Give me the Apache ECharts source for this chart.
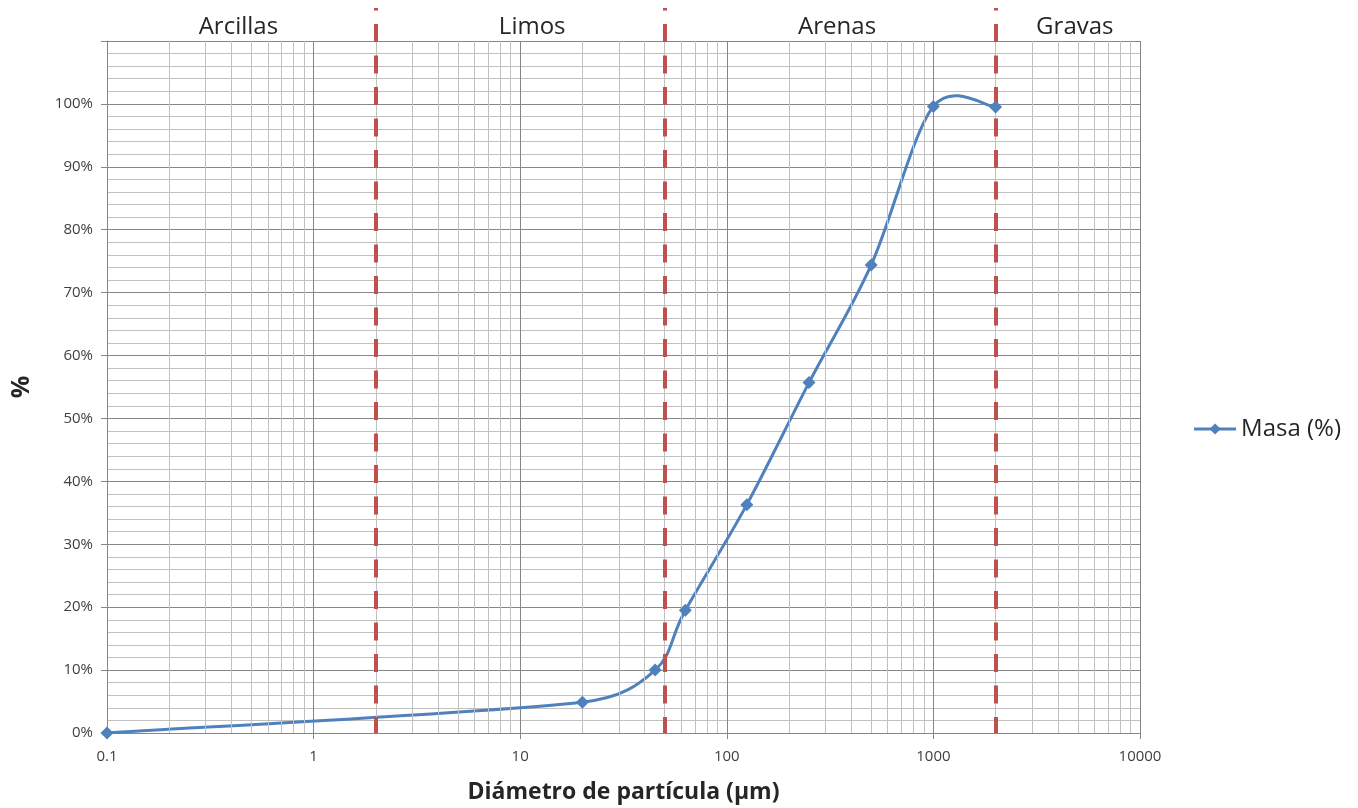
<!DOCTYPE html>
<html>
<head>
<meta charset="utf-8">
<script src="https://cdn.jsdelivr.net/npm/echarts@6/dist/echarts.min.js"></script>
<style>
	html, body { margin: 0; padding: 0; background: #fff; }
	#chart { width: 1358px; height: 808px; }
</style>
</head>
<body>
<div id="chart"></div>
<script>
// particle diameter (µm) and cumulative mass (%)
const diameters = [0.1, 20, 45, 63, 125, 250, 500, 1000, 2000]
const masa = [0, 4.9, 10.0, 19.5, 36.3, 55.7, 74.4, 99.6, 99.5]

// class limits (µm) and names
const limits = [2, 50, 2000]
const classes = ['Arcillas', 'Limos', 'Arenas', 'Gravas']
const classBounds = [[0.1, 2], [2, 50], [50, 2000], [2000, 10000]]

// minor vertical grid lines: 2..9 in each decade
const minorX = []
for (const dec of [0.1, 1, 10, 100, 1000]) {
	for (let k = 2; k <= 9; k++) minorX.push(+(dec * k).toPrecision(3))
}

const chart = echarts.init(document.getElementById('chart'))
const font = '"Open Sans", "Noto Sans", sans-serif'
const labelOffsets = [[-3, 0], [12, 0], [7, 0], [7, 0]]
const blue = '#4F81BD'

// Excel-like smoothed curve: Catmull-Rom tangents, capped to half the segment
const renderCurve = (params, api) => {
	const i = params.dataIndex
	if (i >= diameters.length - 1) return null
	const pt = k => {
		const j = Math.max(0, Math.min(diameters.length - 1, k))
		return api.coord([diameters[j], masa[j]])
	}
	const p0 = pt(i - 1), p1 = pt(i), p2 = pt(i + 1), p3 = pt(i + 2)
	const seg = Math.hypot(p2[0] - p1[0], p2[1] - p1[1])
	const tangent = (a, b) => {
		let vx = (b[0] - a[0]) / 6, vy = (b[1] - a[1]) / 6
		const len = Math.hypot(vx, vy)
		const cap = seg * 0.5
		if (len > cap) { vx *= cap / len; vy *= cap / len }
		return [vx, vy]
	}
	const t1 = tangent(p0, p2), t2 = tangent(p1, p3)
	return {
		type: 'bezierCurve',
		shape: {
			x1: p1[0], y1: p1[1],
			x2: p2[0], y2: p2[1],
			cpx1: p1[0] + t1[0], cpy1: p1[1] + t1[1],
			cpx2: p2[0] - t2[0], cpy2: p2[1] - t2[1]
		},
		style: { stroke: blue, lineWidth: 3, fill: null }
	}
}

chart.setOption({
	animation: false,
	textStyle: { fontFamily: font },
	grid: [
		{ left: 107, right: 218, top: 41, bottom: 75, outerBoundsMode: 'none', containLabel: false },
		// same width, taller: used for the dashed class limits
		{ left: 107, right: 218, top: 8, bottom: 75, outerBoundsMode: 'none', containLabel: false }
	],
	legend: {
		data: [{ name: 'Masa (%)', lineStyle: { color: blue, width: 3, opacity: 1 } }],
		right: 12,
		top: 412,
		orient: 'vertical',
		itemWidth: 42,
		itemHeight: 14,
		itemGap: 4,
		textStyle: { fontSize: 24, color: '#262626', fontFamily: font }
	},
	xAxis: [
		{
			type: 'log',
			logBase: 10,
			min: 0.1,
			max: 10000,
			name: 'Diámetro de partícula (µm)',
			nameLocation: 'middle',
			nameGap: 48,
			nameTextStyle: { fontSize: 23, fontWeight: 'bold', color: '#262626' },
			axisLine: { show: true, lineStyle: { color: '#868686', width: 1 } },
			axisTick: { show: true, length: 6, lineStyle: { color: '#868686' } },
			axisLabel: { fontSize: 15, color: '#404040', margin: 16, formatter: v => String(v) },
			splitLine: { show: true, lineStyle: { color: '#868686', width: 1 } }
		},
		{ type: 'log', logBase: 10, min: 0.1, max: 10000, gridIndex: 1, show: false }
	],
	yAxis: [
		{
			type: 'value',
			min: 0,
			max: 110,
			interval: 10,
			name: '%',
			nameLocation: 'middle',
			nameGap: 73,
			nameRotate: 90,
			nameTextStyle: { fontSize: 25, fontWeight: 'bold', color: '#262626' },
			axisLine: { show: true, lineStyle: { color: '#868686', width: 1 } },
			axisTick: { show: true, length: 6, lineStyle: { color: '#868686' } },
			axisLabel: {
				fontSize: 15,
				color: '#404040',
				margin: 14,
				formatter: v => (v > 100 ? '' : v + '%')
			},
			splitLine: { show: true, lineStyle: { color: '#868686', width: 1 } },
			minorTick: { show: false, splitNumber: 5 },
			minorSplitLine: { show: true, lineStyle: { color: '#C0C0C0', width: 1 } }
		},
		{ type: 'value', min: 0, max: 1, gridIndex: 1, show: false }
	],
	series: [
		{
			// minor vertical grid + class labels
			name: 'grid',
			type: 'line',
			data: [],
			z: 1,
			silent: true,
			markLine: {
				silent: true,
				symbol: 'none',
				label: { show: false },
				lineStyle: { color: '#C0C0C0', width: 1, type: 'solid' },
				data: minorX.map(v => ({ xAxis: v }))
			},
			markArea: {
				silent: true,
				itemStyle: { color: 'rgba(0,0,0,0)' },
				label: { position: 'top', distance: 2, fontSize: 24, color: '#262626', fontFamily: font },
				data: classBounds.map((b, i) => [
					{ name: classes[i], coord: [b[0], 0], label: { offset: labelOffsets[i] } },
					{ coord: [b[1], 110] }
				])
			}
		},
		{
			// class limits
			name: 'limits',
			type: 'line',
			xAxisIndex: 1,
			yAxisIndex: 1,
			data: [],
			z: 2,
			silent: true,
			markLine: {
				silent: true,
				symbol: 'none',
				label: { show: false },
				lineStyle: { color: '#C0504D', width: 4, type: [18, 13.5], dashOffset: 2 },
				data: limits.map(v => ({ xAxis: v }))
			}
		},
		{
			name: 'curva',
			type: 'custom',
			z: 4,
			silent: true,
			data: diameters.map((d, i) => [d, masa[i]]),
			renderItem: renderCurve
		},
		{
			name: 'Masa (%)',
			type: 'line',
			z: 5,
			data: diameters.map((d, i) => [d, masa[i]]),
			symbol: 'diamond',
			symbolSize: 13,
			lineStyle: { color: blue, width: 3, opacity: 0 },
			itemStyle: { color: blue }
		}
	]
})
</script>
</body>
</html>
